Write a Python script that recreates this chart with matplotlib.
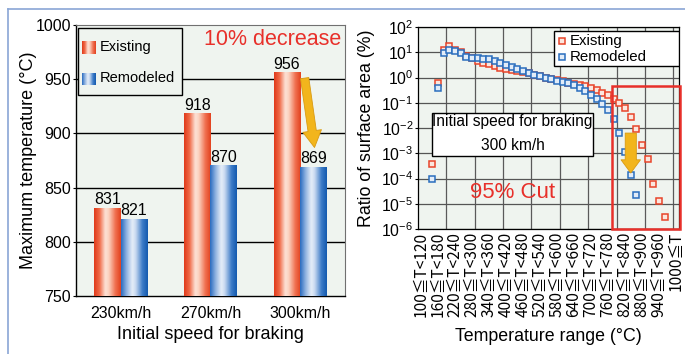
import numpy as np
import matplotlib
matplotlib.use("Agg")
import matplotlib.pyplot as plt
from matplotlib.colors import LinearSegmentedColormap
from matplotlib.patches import Rectangle
from matplotlib.lines import Line2D

plt.rcParams['font.family'] = ['Liberation Sans', 'Noto Sans CJK JP', 'DejaVu Sans']
plt.rcParams['mathtext.fontset'] = 'custom'
plt.rcParams['mathtext.rm'] = 'Liberation Sans'
plt.rcParams['mathtext.it'] = 'Liberation Sans:italic'

# ---------------- data ----------------
speeds = ["230km/h", "270km/h", "300km/h"]
max_temp_existing = [831, 918, 956]
max_temp_remodeled = [821, 870, 869]

bin_starts = list(range(100, 1001, 20))          # 46 bins of 20 degC, last is 1000<=T
label_starts = list(range(100, 941, 60))
tick_labels = [f"{t}≦T<{t + 20}" for t in label_starts] + ["1000≦T"]

# surface-area ratio (%) for bins starting at 140 degC
ratio_existing = [3.8e-4, 0.6, 12, 17, 12, 10, 7.1, 5.7, 4.5, 3.9, 3.4, 2.9, 2.45,
                  2.2, 2.0, 1.8, 1.6, 1.45, 1.3, 1.12, 1.0, 0.88, 0.78, 0.7, 0.62,
                  0.55, 0.5, 0.45, 0.39, 0.32, 0.25, 0.2, 0.145, 0.1, 0.06, 0.027,
                  8.9e-3, 2.1e-3, 5.7e-4, 5.9e-5, 1.3e-5, 3.0e-6]
ratio_remodeled = [1.0e-4, 0.4, 9.1, 12.3, 11.2, 9.1, 6.3, 5.7, 5.7, 5.6, 5.5, 4.5,
                   3.8, 3.0, 2.5, 2.1, 1.8, 1.5, 1.3, 1.1, 0.98, 0.87, 0.75, 0.68,
                   0.59, 0.5, 0.4, 0.28, 0.197, 0.14, 0.086, 0.052, 0.023, 6.3e-3,
                   1.1e-3, 1.35e-4, 2.2e-5]
first_bin = 2

RED = '#e8452a'
BLUE = '#2a6ebe'
BG = '#eff4ef'

red_cmap = LinearSegmentedColormap.from_list('redbar', [
    (0.0, '#e03a1a'), (0.2, '#f06a48'), (0.42, '#fde2d6'), (0.55, '#fbd2c0'),
    (0.8, '#f07050'), (1.0, '#e2421f')])
blue_cmap = LinearSegmentedColormap.from_list('bluebar', [
    (0.0, '#2a6cc0'), (0.2, '#8fb2e0'), (0.42, '#e6eef8'), (0.55, '#c8d9f0'),
    (0.8, '#3d7cc8'), (1.0, '#145aae')])
grad = np.linspace(0, 1, 64).reshape(1, -1)

fig = plt.figure(figsize=(6.85, 3.54), dpi=100)

# outer frame
fig.add_artist(Line2D([8 / 685, 1.0], [1 - 9 / 354] * 2, color='#8aa6d6', lw=1.2))
fig.add_artist(Line2D([8 / 685] * 2, [0, 1 - 9 / 354], color='#8aa6d6', lw=1.2))

# ---------------- left: maximum temperature ----------------
ax = fig.add_axes([76 / 685, 1 - 296 / 354, 269 / 685, 271 / 354])
ax.set_facecolor(BG)
bw = 0.295
for i in range(len(speeds)):
    ax.imshow(grad, cmap=red_cmap, aspect='auto', interpolation='bicubic',
              extent=[i - bw, i, 750, max_temp_existing[i]], zorder=3)
    ax.imshow(grad, cmap=blue_cmap, aspect='auto', interpolation='bicubic',
              extent=[i, i + bw, 750, max_temp_remodeled[i]], zorder=3)
    ax.text(i - bw / 2, max_temp_existing[i] + 1, str(max_temp_existing[i]),
            ha='center', va='bottom', fontsize=11.5, zorder=5)
    ax.text(i + bw / 2, max_temp_remodeled[i] + 1, str(max_temp_remodeled[i]),
            ha='center', va='bottom', fontsize=11.5, zorder=5)
for yv in [800, 850, 900, 950]:
    ax.axhline(yv, color='black', lw=1.0, zorder=1)
ax.set_xlim(-0.5, 2.5)
ax.set_ylim(750, 1000)
ax.set_xticks(range(len(speeds)))
ax.set_xticklabels(speeds, fontsize=11.5)
ax.set_yticks([750, 800, 850, 900, 950, 1000])
ax.tick_params(axis='x', length=0, pad=7)
ax.tick_params(axis='y', length=2, pad=1.5, labelsize=11.5)
ax.set_xlabel("Initial speed for braking", fontsize=13, labelpad=4)
ax.set_ylabel("Maximum temperature (°C)", fontsize=13, labelpad=-1)
for s in ['left', 'bottom']:
    ax.spines[s].set_linewidth(1.0)
for s in ['top', 'right']:
    ax.spines[s].set_color('#707070')
    ax.spines[s].set_linewidth(0.8)

# legend box
ax.add_patch(Rectangle((0.0074, 0.742), 0.387, 0.247, transform=ax.transAxes,
                       fc=BG, ec='black', lw=1.0, zorder=6))
for cmap, y0, y1, lab, yt in [(red_cmap, 0.893, 0.94, "Existing", 0.917),
                              (blue_cmap, 0.778, 0.822, "Remodeled", 0.803)]:
    ax.imshow(grad, cmap=cmap, aspect='auto', extent=[0.022, 0.072, y0, y1],
              transform=ax.transAxes, zorder=7)
    ax.text(0.09, yt, lab, transform=ax.transAxes, fontsize=10.5,
            va='center', ha='left', zorder=7)
ax.text(0.985, 0.945, "10% decrease", transform=ax.transAxes, color='#e8302a',
        fontsize=15.5, ha='right', va='center', zorder=6)
ax.annotate('', xy=(2.16, 887), xytext=(2.05, 951),
            arrowprops=dict(arrowstyle='simple,head_length=1.2,head_width=1.35,tail_width=0.6',
                            fc='#f2b51c', ec='#d99a12', lw=0.6, mutation_scale=10,
                            shrinkA=0, shrinkB=0), zorder=8)
ax.set_xlim(-0.5, 2.5)
ax.set_ylim(750, 1000)

# ---------------- right: surface area ratio ----------------
ax2 = fig.add_axes([418 / 685, 1 - 229 / 354, 261 / 685, 202 / 354])
ax2.set_facecolor(BG)
ax2.set_yscale('log')
ax2.set_ylim(1e-6, 1e2)
ax2.set_xlim(-0.5, len(bin_starts) - 0.5)
ax2.grid(True, which='major', axis='y', color='#555555', lw=0.9, zorder=0)
ax2.grid(True, which='minor', axis='y', color='#b8bcb8', lw=0.6, zorder=0)
for k in range(5, len(bin_starts), 5):
    ax2.axvline(k - 0.5, color='#5a5a5a', lw=0.9, zorder=0)

xe = np.arange(first_bin, first_bin + len(ratio_existing))
xr = np.arange(first_bin, first_bin + len(ratio_remodeled))
ax2.plot(xe, ratio_existing, ls='none', marker='s', ms=4.1, mec=RED,
         mfc='#fbe6de', mew=1.1, zorder=4)
ax2.plot(xr, ratio_remodeled, ls='none', marker='s', ms=4.1, mec=BLUE,
         mfc='#e2ecf8', mew=1.1, zorder=4)

ax2.set_yticks([10.0 ** e for e in range(-6, 3)])
ax2.set_yticklabels([rf'$\mathregular{{10^{{{e}}}}}$' for e in range(-6, 3)],
                    fontsize=11.3)
ax2.tick_params(axis='y', which='major', length=2, pad=1.5)
ax2.tick_params(axis='y', which='minor', length=0)
tick_pos = [bin_starts.index(t) for t in label_starts] + [bin_starts.index(1000)]
ax2.set_xticks(tick_pos)
ax2.set_xticklabels(tick_labels, rotation=90, fontsize=11.2,
                    family=['Noto Sans CJK JP', 'Liberation Sans'])
ax2.tick_params(axis='x', length=0, pad=2)
ax2.set_xlabel("Temperature range (°C)", fontsize=12.8, labelpad=8)
ax2.set_ylabel("Ratio of surface area (%)", fontsize=12.8)
ax2.yaxis.set_label_coords(-0.165, 0.5)
for s in ax2.spines.values():
    s.set_linewidth(0.9)

# legend
ax2.add_patch(Rectangle((0.521, 0.807), 0.479, 0.173, transform=ax2.transAxes,
                        fc='white', ec='black', lw=1.0, zorder=6))
for col, fc, yl, lab in [(RED, '#fbe6de', 0.931, "Existing"),
                         (BLUE, '#e2ecf8', 0.851, "Remodeled")]:
    ax2.plot([0.552], [yl], transform=ax2.transAxes, marker='s', ms=4.1,
             mec=col, mfc=fc, mew=1.1, zorder=7, clip_on=False)
    ax2.text(0.582, yl, lab, transform=ax2.transAxes, fontsize=10.8,
             va='center', ha='left', zorder=7)

# condition box
ax2.add_patch(Rectangle((0.054, 0.361), 0.616, 0.213, transform=ax2.transAxes,
                        fc='white', ec='black', lw=1.0, zorder=6))
ax2.text(0.362, 0.530, "Initial speed for braking", transform=ax2.transAxes,
         fontsize=11.2, ha='center', va='center', zorder=7)
ax2.text(0.362, 0.411, "300 km/h", transform=ax2.transAxes,
         fontsize=11.2, ha='center', va='center', zorder=7)

ax2.text(0.364, 0.183, "95% Cut", transform=ax2.transAxes, color='#e8302a',
         fontsize=16, ha='center', va='center', zorder=5)

ax2.add_patch(Rectangle((33.69, 1e-6), 45.6 - 33.69, 0.46 - 1e-6, fill=False,
                        ec='#e8302a', lw=1.8, zorder=5, clip_on=False))
ax2.annotate('', xy=(37, 1.65e-4), xytext=(37, 6.3e-3),
             arrowprops=dict(arrowstyle='simple,head_length=0.95,head_width=1.4,tail_width=0.8',
                             fc='#f2b51c', ec='#d99a12', lw=0.6, mutation_scale=10,
                             shrinkA=0, shrinkB=0), zorder=8)

fig.savefig("out.png", dpi=100)
